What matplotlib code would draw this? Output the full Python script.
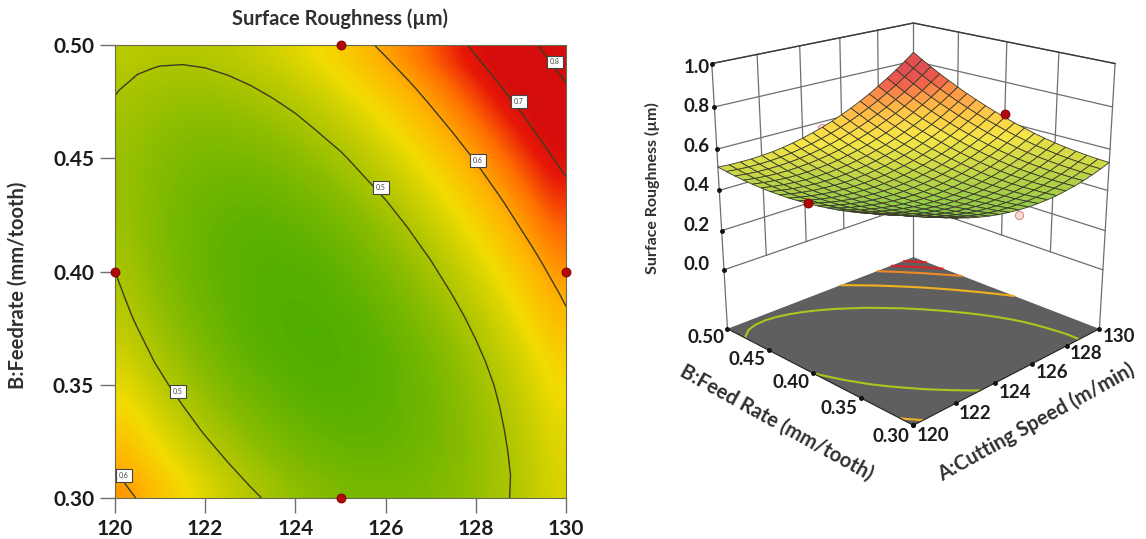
import numpy as np
import matplotlib
matplotlib.use('Agg')
import matplotlib.pyplot as plt
from matplotlib.colors import LinearSegmentedColormap, Normalize
from mpl_toolkits.mplot3d import proj3d

plt.rcParams['font.family'] = ['Lato', 'DejaVu Sans']

# cutting speed and feed rate at the grid nodes
speed = [120, 120.5, 121, 121.5, 122, 122.5, 123, 123.5, 124, 124.5, 125,
         125.5, 126, 126.5, 127, 127.5, 128, 128.5, 129, 129.5, 130]
feed = [0.30, 0.31, 0.32, 0.33, 0.34, 0.35, 0.36, 0.37, 0.38, 0.39, 0.40,
        0.41, 0.42, 0.43, 0.44, 0.45, 0.46, 0.47, 0.48, 0.49, 0.50]

# surface roughness, one row per feed rate
roughness = [
    [.622, .598, .575, .554, .536, .520, .506, .494, .484, .477, .471, .468, .467, .468, .471, .477, .484, .494, .506, .520, .536],
    [.604, .580, .558, .539, .522, .507, .494, .483, .474, .467, .463, .461, .461, .463, .467, .474, .482, .493, .506, .521, .538],
    [.587, .564, .543, .525, .509, .495, .483, .473, .465, .460, .456, .455, .456, .459, .465, .472, .482, .494, .508, .524, .542],
    [.571, .549, .530, .512, .497, .484, .473, .464, .458, .453, .451, .451, .453, .457, .463, .472, .483, .496, .511, .528, .547],
    [.556, .535, .517, .501, .486, .474, .465, .457, .451, .448, .447, .448, .451, .456, .463, .473, .485, .499, .515, .533, .553],
    [.543, .523, .506, .490, .477, .466, .458, .451, .446, .444, .444, .446, .450, .456, .465, .475, .488, .503, .520, .540, .561],
    [.531, .512, .496, .482, .470, .460, .452, .446, .443, .441, .442, .445, .451, .458, .467, .479, .493, .509, .527, .547, .570],
    [.521, .504, .488, .475, .464, .455, .448, .444, .441, .441, .443, .447, .453, .462, .472, .485, .500, .517, .536, .558, .581],
    [.513, .496, .482, .470, .460, .452, .446, .443, .441, .442, .445, .450, .458, .467, .479, .492, .508, .526, .547, .569, .594],
    [.506, .490, .477, .466, .457, .450, .446, .443, .443, .445, .449, .455, .463, .474, .486, .501, .518, .537, .558, .582, .607],
    [.500, .486, .473, .463, .455, .450, .446, .445, .445, .448, .453, .461, .470, .481, .495, .511, .529, .549, .571, .596, .623],
    [.496, .482, .471, .462, .455, .450, .448, .447, .449, .453, .459, .468, .478, .491, .505, .522, .541, .562, .586, .611, .639],
    [.492, .480, .470, .462, .456, .453, .451, .452, .455, .459, .467, .476, .487, .501, .517, .535, .555, .577, .602, .628, .657],
    [.491, .479, .470, .463, .459, .456, .455, .457, .461, .467, .475, .486, .498, .513, .530, .549, .570, .593, .618, .646, .676],
    [.490, .480, .472, .466, .462, .461, .461, .464, .469, .476, .485, .497, .510, .526, .544, .564, .586, .610, .637, .665, .696],
    [.491, .482, .475, .470, .467, .467, .468, .472, .478, .486, .496, .509, .523, .540, .559, .580, .603, .629, .656, .686, .718],
    [.493, .485, .479, .475, .473, .474, .477, .481, .488, .498, .509, .522, .538, .556, .576, .598, .622, .649, .677, .708, .741],
    [.4964, .4893, .4844, .4816, .4810, .4826, .4863, .4922, .5002, .5104, .523, .537, .554, .573, .594, .617, .642, .670, .699, .731, .765],
    [.5011, .4950, .4912, .4895, .4899, .4925, .4973, .5042, .5133, .5246, .538, .554, .571, .591, .613, .637, .664, .692, .723, .756, .791],
    [.5071, .5021, .4993, .4986, .5001, .5037, .5096, .5175, .5277, .5400, .554, .571, .590, .611, .634, .659, .687, .716, .748, .782, .818],
    [.514, .510, .509, .509, .512, .516, .523, .532, .543, .557, .572, .590, .610, .632, .656, .682, .711, .741, .774, .809, .846],
]

# shade of the 3D mesh, which runs green along the front edges of the picture
shade_speed = [120, 122.5, 125, 127.5, 130]
shade_feed = [0.30, 0.35, 0.40, 0.45, 0.50]
shade_values = [
    [.45, .445, .46, .48, .52],
    [.455, .45, .47, .50, .54],
    [.46, .47, .50, .54, .60],
    [.49, .50, .54, .58, .68],
    [.52, .55, .59, .68, .82],
]

contour_levels = [0.5, 0.6, 0.7, 0.8]
# contour labels: value, speed, feed
label_values = [0.5, 0.5, 0.6, 0.7, 0.8, 0.6]
label_speed = [125.9, 121.4, 128.05, 128.96, 129.76, 120.2]
label_feed = [0.437, 0.347, 0.449, 0.475, 0.4925, 0.31]

# design points
point_speed = [125, 125, 120, 130]
point_feed = [0.50, 0.30, 0.40, 0.40]
point_z = [0.57, 0.45, 0.50, 0.64]
point_hidden = [True, True, False, False]

speed_ticks = [120, 122, 124, 126, 128, 130]
feed_ticks = [0.30, 0.35, 0.40, 0.45, 0.50]
z_ticks = [0.0, 0.2, 0.4, 0.6, 0.8, 1.0]
floor_levels = [0.5, 0.6, 0.7, 0.75, 0.8]
floor_colors = ['#A8C81E', '#EFB021', '#EE8A24', '#D8242A', '#D8242A']
floor_z = -0.31

cmap = LinearSegmentedColormap.from_list('rsm', [
    (0.0, '#4FAE00'), (0.167, '#A8C400'), (0.32, '#F2DC00'), (0.444, '#FFB400'),
    (0.583, '#FF7000'), (0.722, '#E81808'), (0.833, '#D40C0C'), (1.0, '#D40C0C')])
norm = Normalize(0.44, 0.80)

W, H = 1146, 539
fig = plt.figure(figsize=(W / 100, H / 100), dpi=100)
text_col = '#1c1c1c'

A, B = np.meshgrid(speed, feed)
Z = np.array(roughness)

# left: contour map
ax = fig.add_axes([115 / W, (H - 498) / H, 451 / W, 453 / H])
ax.imshow(Z, extent=[120, 130, 0.30, 0.50], origin='lower', aspect='auto',
          cmap=cmap, norm=norm, interpolation='bicubic')
ax.contour(A, B, Z, levels=contour_levels, colors='#3c3c20', linewidths=1.0)
for v, a, b in zip(label_values, label_speed, label_feed):
    ax.text(a, b, '%.1f' % v, fontsize=5, ha='center', va='center', color='#444444',
            bbox=dict(boxstyle='square,pad=0.4', fc='white', ec='#444444', lw=0.8))
ax.plot(point_speed, point_feed, 'o', ms=6.5, color='#B00808', mec='#7a0000', mew=0.6,
        clip_on=False, zorder=5)
ax.set_xlim(120, 130)
ax.set_ylim(0.30, 0.50)
ax.set_xticks(speed_ticks)
ax.set_yticks(feed_ticks)
ax.set_yticklabels(['%.2f' % f for f in feed_ticks])
ax.tick_params(length=11, width=1, color='#707070', labelsize=15, labelcolor=text_col, pad=4)
for lab in ax.get_xticklabels() + ax.get_yticklabels():
    lab.set_fontweight('bold')
for s in ax.spines.values():
    s.set_color('#6a6a50')
    s.set_linewidth(0.8)
fig.text(340 / W, 1 - 19 / H, 'Surface Roughness (µm)', fontsize=14.5, fontweight='bold',
         color='#303030', ha='center', va='center')
fig.text(18 / W, 1 - 285 / H, 'B:Feedrate (mm/tooth)', fontsize=14.5, fontweight='bold',
         color='#303030', rotation=90, ha='center', va='center')

# right: 3D surface
ax3 = fig.add_axes([631 / W, 55 / H, 550 / W, 550 / H], projection='3d', computed_zorder=False)
ax3.set_proj_type('persp', focal_length=0.4)
ax3.view_init(elev=20, azim=-135)
ax3.set_box_aspect((1, 1, 1.03), zoom=0.845)
ax3.set_xlim(120, 130, view_margin=0)
ax3.set_ylim(0.30, 0.50, view_margin=0)
ax3.set_zlim(floor_z, 1.0, view_margin=0)
ax3.set_axis_off()
ax3.patch.set_alpha(0)

wall = '#6e6e6e'
for z in z_ticks:
    ax3.plot([120, 130, 130], [0.5, 0.5, 0.3], [z, z, z], color=wall, lw=0.9, zorder=1)
for a in speed_ticks[1:-1]:
    ax3.plot([a, a], [0.5, 0.5], [0, 1], color=wall, lw=0.9, zorder=1)
for b in feed_ticks[1:-1]:
    ax3.plot([130, 130], [b, b], [0, 1], color=wall, lw=0.9, zorder=1)
ax3.plot([120, 120], [0.5, 0.5], [floor_z, 1], color=wall, lw=0.9, zorder=1)
ax3.plot([130, 130], [0.3, 0.3], [floor_z, 1], color=wall, lw=0.9, zorder=1)
ax3.plot([130, 130], [0.5, 0.5], [floor_z, 1], color=wall, lw=0.9, zorder=1)
ax3.plot([120, 130, 130], [0.5, 0.5, 0.3], [1, 1, 1], color='#3c3c3c', lw=1.0, zorder=1)

# floor
ax3.plot_surface(np.array([[120, 130], [120, 130]]), np.array([[0.3, 0.3], [0.5, 0.5]]),
                 np.full((2, 2), floor_z), color='#5f5f5f', shade=False, linewidth=0, zorder=2)
ax3.contour(A, B, Z, levels=floor_levels, colors=floor_colors, zdir='z', offset=floor_z,
            linewidths=1.5, zorder=3)
ax3.plot([120, 120, 130], [0.5, 0.3, 0.3], [floor_z] * 3, color='#222222', lw=0.8, zorder=3)
ax3.plot(speed_ticks, [0.3] * len(speed_ticks), [floor_z] * len(speed_ticks), 'o', ms=2.5,
         color='#111111', zorder=3)
ax3.plot([120] * len(feed_ticks), feed_ticks, [floor_z] * len(feed_ticks), 'o', ms=2.5,
         color='#111111', zorder=3)
ax3.plot([120] * len(z_ticks), [0.5] * len(z_ticks), z_ticks, 'o', ms=2.5, color='#111111', zorder=3)

# design points behind the surface
for a, b, z, hid in zip(point_speed, point_feed, point_z, point_hidden):
    if hid:
        ax3.plot([a], [b], [z], 'o', ms=6, color='#F4D8D4', mec='#D08080', mew=0.6, zorder=4)

# mesh shade: resample the coarse shade table to the mesh nodes
shade_rows = np.array([np.interp(speed, shade_speed, row) for row in shade_values])
shade = np.array([np.interp(feed, shade_feed, col) for col in shade_rows.T]).T
colors = cmap(norm(shade))
colors[..., :3] = colors[..., :3] * 0.72 + 0.28
ax3.plot_surface(A, B, Z, facecolors=colors, rstride=1, cstride=1, shade=False,
                 edgecolor='#3a3a2a', linewidth=0.6, antialiased=True, zorder=5)

for a, b, z, hid in zip(point_speed, point_feed, point_z, point_hidden):
    if not hid:
        ax3.plot([a], [b], [z], 'o', ms=6.5, color='#B00808', mec='#7a0000', mew=0.6, zorder=6)


def floor_label(x, y, s):
    # project the floor position to the 2D plane of the axes
    px, py, _ = proj3d.proj_transform(x, y, floor_z, ax3.get_proj())
    ax3.text2D(px, py, s, transform=ax3.transData, fontsize=13.5, fontweight='bold',
               color=text_col, ha='center', va='center', zorder=7)


# tick labels
for a in speed_ticks:
    floor_label(a, 0.282, str(a))
for b in feed_ticks:
    floor_label(119.0, b, '%.2f' % b)
for z in z_ticks:
    fig.text(697 / W, 1 - (265 - z * 198) / H, '%.1f' % z, fontsize=13.5, fontweight='bold',
             color=text_col, ha='center', va='center')

fig.text(1036 / W, 1 - 422 / H, 'A:Cutting Speed (m/min)', fontsize=14.5, fontweight='bold',
         color='#303030', rotation=29, rotation_mode='anchor', ha='center', va='center')
fig.text(777 / W, 1 - 423 / H, 'B:Feed Rate (mm/tooth)', fontsize=14.5, fontweight='bold',
         color='#303030', rotation=-29, rotation_mode='anchor', ha='center', va='center')
fig.text(652 / W, 1 - 188 / H, 'Surface Roughness (µm)', fontsize=11.5, fontweight='bold',
         color='#303030', rotation=90, ha='center', va='center')

fig.savefig('out.png', dpi=100)
